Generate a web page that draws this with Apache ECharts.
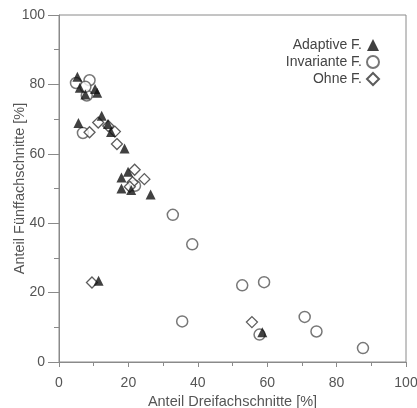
<!DOCTYPE html>
<html>
<head>
<meta charset="utf-8">
<script src="https://cdn.jsdelivr.net/npm/echarts@6/dist/echarts.min.js"></script>
<style>
  html, body { margin: 0; padding: 0; background: #fff; }
  #chart { width: 417px; height: 408px; }
</style>
</head>
<body>
<div id="chart"></div>
<script>
// Anteil Dreifachschnitte [%], Anteil Fünffachschnitte [%]
const adaptive = [
  [5.3, 82.2], [6.0, 79.0], [7.6, 77.1], [10.4, 78.7], [11.0, 77.6],
  [5.6, 68.9], [12.3, 71.0], [14.1, 68.6], [15.0, 66.3], [18.9, 61.5],
  [18.0, 53.2], [19.9, 54.8], [18.0, 50.0], [20.8, 49.6], [26.4, 48.3],
  [11.4, 23.4], [58.6, 8.6]
]
const invariante = [
  [4.9, 80.4], [8.8, 81.2], [8.0, 76.8], [7.6, 79.3], [6.9, 66.0],
  [21.9, 50.8], [32.8, 42.4], [38.4, 33.9], [35.5, 11.7], [52.8, 22.1],
  [59.1, 23.0], [57.8, 7.9], [70.8, 13.0], [74.2, 8.8], [87.6, 4.0]
]
const ohne = [
  [8.8, 66.2], [11.3, 69.0], [14.2, 68.0], [16.1, 66.4], [16.7, 62.8],
  [21.8, 55.4], [24.6, 52.7], [21.2, 51.8], [20.4, 50.5], [9.5, 22.9],
  [55.6, 11.5]
]
const legendNames = ['Adaptive F.', 'Invariante F.', 'Ohne F.']

const chart = echarts.init(document.getElementById('chart'))
const font = 'Liberation Sans, Arial, sans-serif'
const axisColor = '#8a8a8a'
const textColor = '#555'

chart.setOption({
  animation: false,
  textStyle: { fontFamily: font },
  grid: {
    left: 59, right: 11, top: 15, bottom: 46,
    outerBoundsMode: 'none',
    containLabel: false,
    show: true, borderColor: axisColor, borderWidth: 1
  },
  legend: {
    data: legendNames,
    orient: 'vertical',
    right: 32,
    top: 33,
    align: 'right',
    itemGap: 3,
    itemWidth: 12,
    itemHeight: 12,
    textStyle: { fontSize: 14, color: '#444', fontFamily: font }
  },
  xAxis: {
    type: 'value',
    min: 0, max: 100, interval: 20,
    name: 'Anteil Dreifachschnitte [%]',
    nameLocation: 'middle',
    nameGap: 32,
    nameMoveOverlap: false,
    nameTextStyle: { fontSize: 14.5, color: textColor },
    axisLine: { lineStyle: { color: axisColor } },
    axisTick: { length: 5, lineStyle: { color: axisColor } },
    minorTick: { show: true, splitNumber: 2, length: 4, lineStyle: { color: axisColor } },
    axisLabel: { fontSize: 14, color: textColor, margin: 14, hideOverlap: false },
    splitLine: { show: false }
  },
  yAxis: {
    type: 'value',
    min: 0, max: 100, interval: 20,
    name: 'Anteil Fünffachschnitte [%]',
    nameLocation: 'middle',
    nameGap: 32,
    nameMoveOverlap: false,
    nameTextStyle: { fontSize: 14.5, color: textColor },
    axisLine: { show: true, lineStyle: { color: axisColor } },
    axisTick: { show: true, length: 11, lineStyle: { color: axisColor } },
    minorTick: { show: true, splitNumber: 2, length: 5, lineStyle: { color: axisColor } },
    axisLabel: { fontSize: 14, color: textColor, margin: 14 },
    splitLine: { show: false }
  },
  series: [
    {
      name: 'Invariante F.',
      type: 'scatter',
      data: invariante,
      symbol: 'circle',
      symbolSize: 11,
      itemStyle: { color: '#fff', borderColor: '#555', borderWidth: 1.5 }
    },
    {
      name: 'Ohne F.',
      type: 'scatter',
      data: ohne,
      symbol: 'diamond',
      symbolSize: 11,
      itemStyle: { color: '#fff', borderColor: '#333', borderWidth: 1.3 }
    },
    {
      name: 'Adaptive F.',
      type: 'scatter',
      data: adaptive,
      symbol: 'triangle',
      symbolSize: 10,
      itemStyle: { color: '#111' }
    }
  ]
})
</script>
</body>
</html>
